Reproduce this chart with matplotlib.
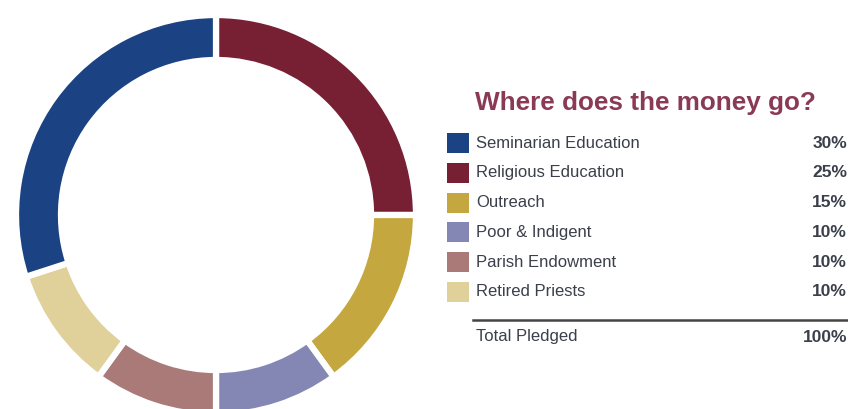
import matplotlib
matplotlib.use("Agg")
import matplotlib.pyplot as plt
from matplotlib.patches import Rectangle

plt.rcParams['font.family'] = ['Liberation Sans', 'DejaVu Sans']

# legend order
labels = ["Seminarian Education", "Religious Education", "Outreach",
          "Poor & Indigent", "Parish Endowment", "Retired Priests"]
shares = [30, 25, 15, 10, 10, 10]
colors = ["#1b4282", "#771f33", "#c4a73f", "#8487b3", "#a97a78", "#e0d19b"]
total_label = "Total Pledged"

# ring goes clockwise from 12 o'clock, starting with Religious Education
ring_order = [1, 2, 3, 4, 5, 0]

W, H = 848, 409
fig = plt.figure(figsize=(W / 100, H / 100), dpi=100)

cx, cy, r = 216, 215, 200
ax = fig.add_axes([(cx - r) / W, (H - cy - r) / H, 2 * r / W, 2 * r / H])
ax.pie([shares[i] for i in ring_order],
       colors=[colors[i] for i in ring_order],
       startangle=90, counterclock=False, radius=1,
       wedgeprops=dict(width=0.225, edgecolor="white", linewidth=4.5))
ax.set_xlim(-1, 1)
ax.set_ylim(-1, 1)
ax.set_aspect("equal")
ax.axis("off")

# legend panel in pixel coordinates
lg = fig.add_axes([0, 0, 1, 1])
lg.set_xlim(0, W)
lg.set_ylim(H, 0)
lg.axis("off")

lg.text(475, 103, "Where does the money go?", fontsize=18.8, fontweight="bold",
        color="#8a3a55", va="center", ha="left")

y0, dy = 143, 29.8
txt = "#3a3f4a"
for i, (lab, val, col) in enumerate(zip(labels, shares, colors)):
    y = y0 + i * dy
    lg.add_patch(Rectangle((447, y - 10), 22, 20, facecolor=col, edgecolor="none"))
    lg.text(476, y, lab, fontsize=12, color=txt, va="center", ha="left")
    lg.text(847, y, f"{val}%", fontsize=12.5, fontweight="bold", color=txt,
            va="center", ha="right")

lg.plot([473, 848], [320, 320], color="#444444", lw=1.8)
lg.text(476, 337, total_label, fontsize=12, color=txt, va="center", ha="left")
lg.text(847, 337, f"{sum(shares)}%", fontsize=12.5, fontweight="bold", color=txt,
        va="center", ha="right")

fig.savefig("out.png", dpi=100)
